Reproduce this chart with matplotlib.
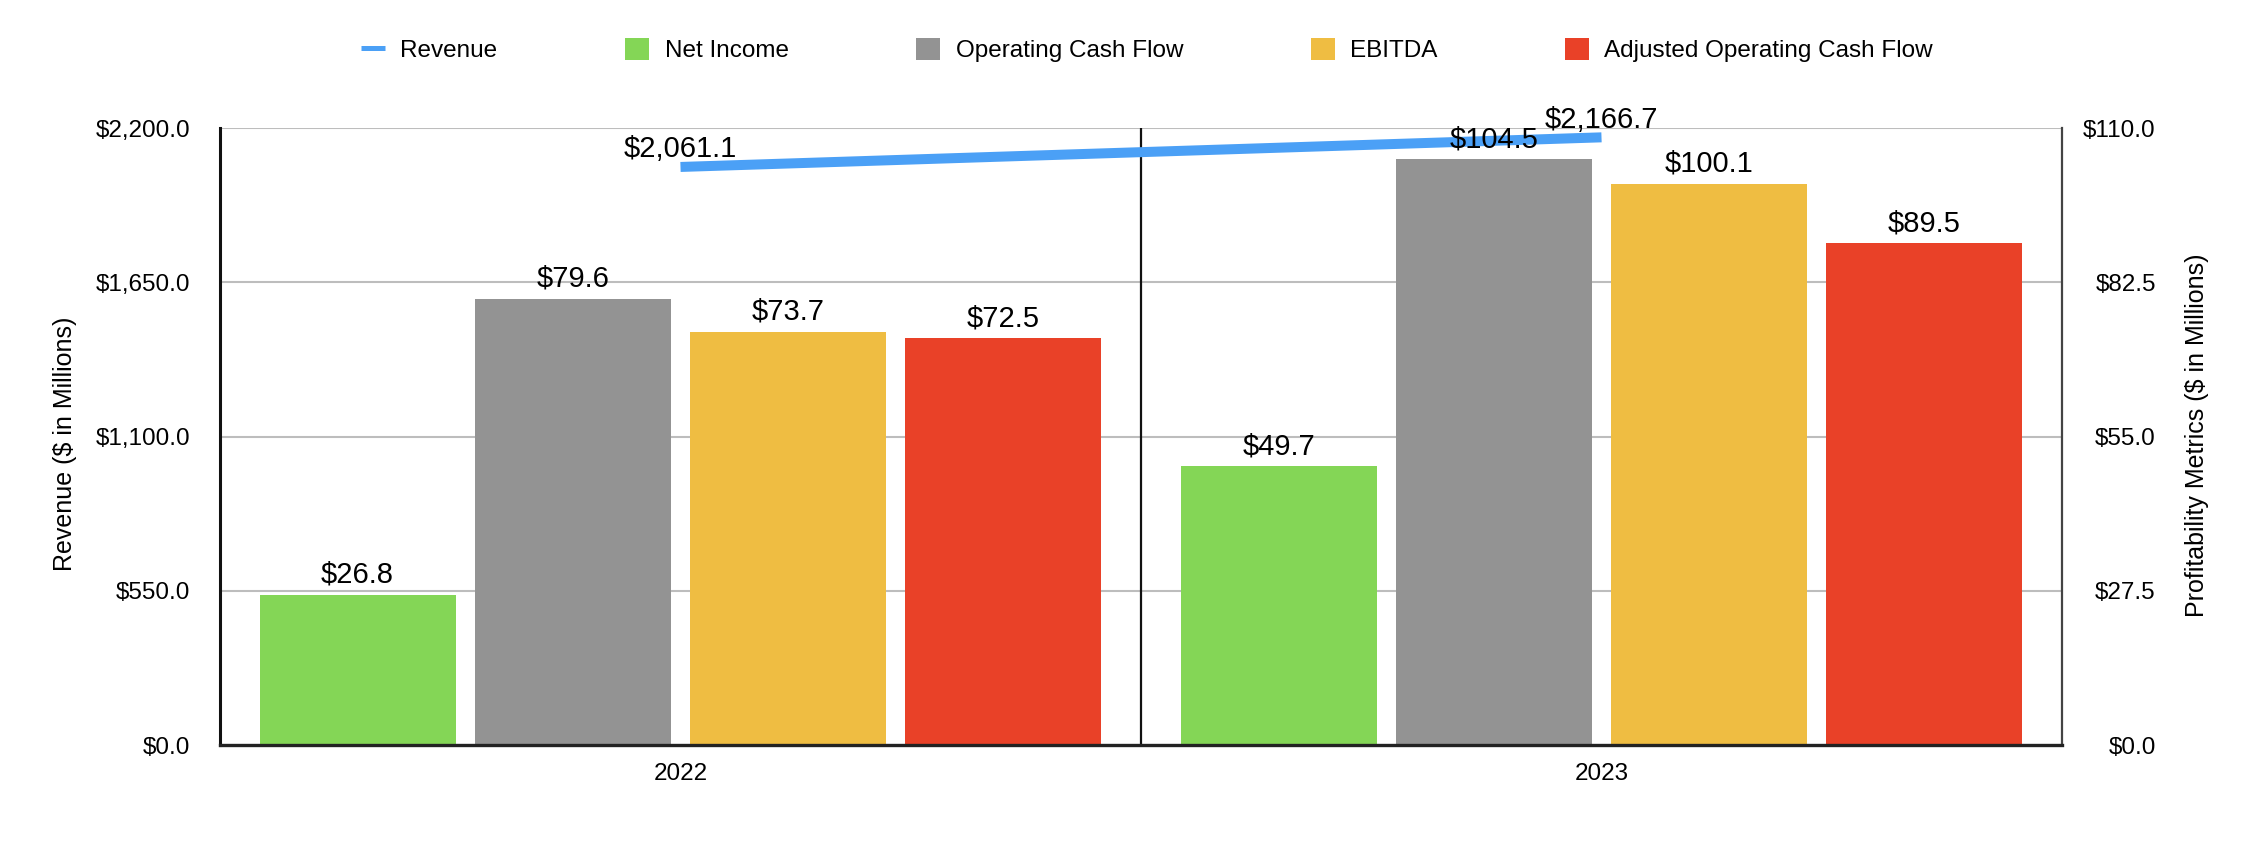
import matplotlib.pyplot as plt
from matplotlib.lines import Line2D
from matplotlib.patches import Patch
import numpy as np

plt.rcParams["font.family"] = ["Liberation Sans", "DejaVu Sans"]

# data
years = ["2022", "2023"]
revenue = [2061.1, 2166.7]
metric_names = ["Net Income", "Operating Cash Flow", "EBITDA", "Adjusted Operating Cash Flow"]
net_income = [26.8, 49.7]
operating_cash_flow = [79.6, 104.5]
ebitda = [73.7, 100.1]
adj_operating_cash_flow = [72.5, 89.5]

rev_ticks = [0, 550, 1100, 1650, 2200]
metric_ticks = [0, 27.5, 55, 82.5, 110]

colors = ["#84D656", "#939393", "#EFBD42", "#E94128"]
line_color = "#4BA0F6"

fig = plt.figure(figsize=(22.6, 8.6), dpi=100)
ax = fig.add_axes([220 / 2260, 1 - 745 / 860, (2062 - 220) / 2260, (745 - 128) / 860])
ax2 = ax.twinx()

# revenue axes on top so the line sits above the bars
ax.set_zorder(ax2.get_zorder() + 1)
ax.patch.set_visible(False)

x = np.arange(len(years))
width = 0.213
step = 0.2337
series = [net_income, operating_cash_flow, ebitda, adj_operating_cash_flow]

for i, vals in enumerate(series):
    pos = x + (i - 1.5) * step
    ax2.bar(pos, vals, width, color=colors[i], zorder=2)
    for xp, v in zip(pos, vals):
        ax.annotate(f"${v:,.1f}", xy=(xp, v), xycoords=ax2.transData,
                    xytext=(0, 8.5), textcoords="offset points",
                    ha="center", va="baseline", fontsize=21, zorder=5)

ax.plot(x, revenue, color=line_color, lw=7.2, solid_capstyle="butt", zorder=3)
for xp, v in zip(x, revenue):
    ax.annotate(f"${v:,.1f}", xy=(xp, v), xytext=(0, 7), textcoords="offset points",
                ha="center", va="baseline", fontsize=21, zorder=5)

ax.set_xlim(-0.5, 1.5)
ax.set_ylim(0, 2200)
ax2.set_ylim(0, 110)
ax.set_yticks(rev_ticks)
ax.set_yticklabels([f"${t:,.1f}" for t in rev_ticks])
ax2.set_yticks(metric_ticks)
ax2.set_yticklabels([f"${t:,.1f}" for t in metric_ticks], ha="right")
ax.set_xticks(x)
ax.set_xticklabels(years)

ax.tick_params(axis="y", length=0, pad=21.5, labelsize=17.5)
ax.tick_params(axis="x", length=0, pad=13, labelsize=17.5)
ax2.tick_params(axis="y", length=0, pad=67.5, labelsize=17.5)

ax2.grid(axis="y", color="#BDBDBD", lw=1.5, zorder=0)
ax2.set_axisbelow(True)
ax2.axvline(0.5, color="#111111", lw=1.6, zorder=1)

for a in (ax, ax2):
    for side in ["top", "left", "right", "bottom"]:
        a.spines[side].set_visible(False)
ax2.spines["left"].set_visible(True)
ax2.spines["left"].set_linewidth(2.2)
ax2.spines["left"].set_color("#111111")
ax2.spines["right"].set_visible(True)
ax2.spines["right"].set_linewidth(1.6)
ax2.spines["right"].set_color("#444444")
ax2.spines["bottom"].set_visible(True)
ax2.spines["bottom"].set_linewidth(2.4)
ax2.spines["bottom"].set_color("#222222")

fig.text(65 / 2260, 1 - 444 / 860, "Revenue ($ in Millions)", rotation=90,
         ha="center", va="center", fontsize=18)
fig.text(2197 / 2260, 1 - 435 / 860, "Profitability Metrics ($ in Millions)", rotation=90,
         ha="center", va="center", fontsize=18)

handles = [Line2D([0], [0], color=line_color, lw=3.6, solid_capstyle="butt")]
handles += [Patch(facecolor=c) for c in colors]
fig.legend(handles, ["Revenue"] + metric_names, loc="center", ncol=5,
           bbox_to_anchor=(1147 / 2260, 1 - 50 / 860), frameon=False, fontsize=17.5,
           handlelength=1.0, handleheight=1.0, handletextpad=0.62, columnspacing=5.25)

fig.savefig("out.png", dpi=100)
